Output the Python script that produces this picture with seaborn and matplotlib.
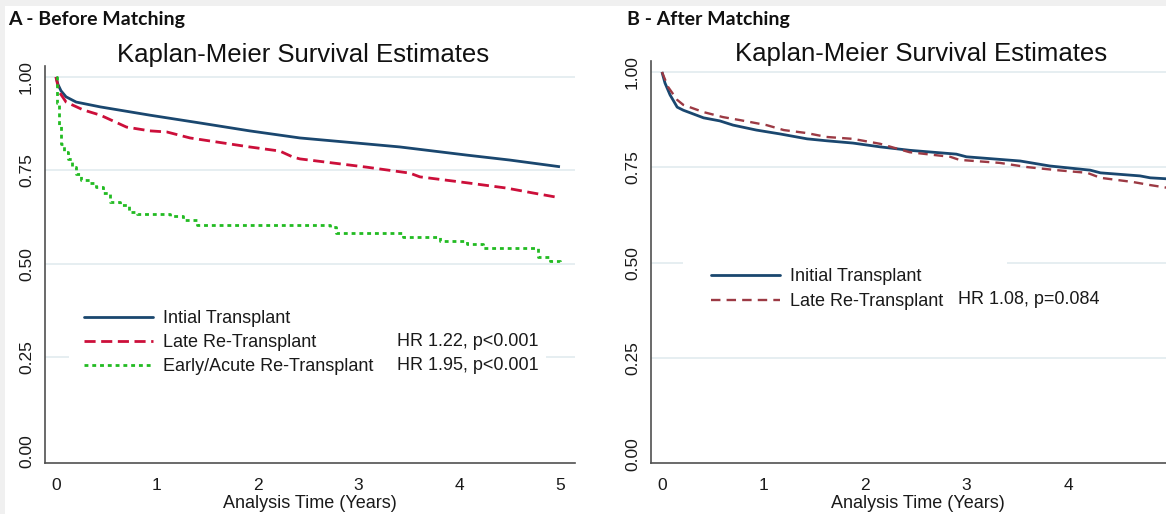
import matplotlib
matplotlib.use("Agg")
import matplotlib.pyplot as plt
import seaborn as sns
import pandas as pd
from matplotlib.lines import Line2D
from matplotlib.patches import Rectangle

# ---------------- data ----------------
y_ticks = [0.0, 0.25, 0.5, 0.75, 1.0]
y_tick_labels = ["0.00", "0.25", "0.50", "0.75", "1.00"]
x_ticks_a = [0, 1, 2, 3, 4, 5]
x_ticks_b = [0, 1, 2, 3, 4]

# Panel A - Before Matching
a_init_t = [0, 0.02, 0.05, 0.1, 0.2, 0.44, 0.93, 1.43, 1.92, 2.42, 3.0, 3.41, 4.08, 4.5, 5.0]
a_init_s = [1.0, 0.98, 0.963, 0.947, 0.933, 0.92, 0.898, 0.877, 0.856, 0.837, 0.823, 0.813, 0.791, 0.778, 0.760]

a_late_t = [0, 0.02, 0.04, 0.1, 0.27, 0.44, 0.70, 0.93, 1.1, 1.33, 1.6, 1.92, 2.22, 2.35, 2.42,
            2.75, 3.08, 3.51, 3.61, 4.08, 4.47, 4.73, 5.0]
a_late_s = [1.0, 0.975, 0.957, 0.933, 0.912, 0.898, 0.866, 0.856, 0.853, 0.837, 0.826, 0.813, 0.802, 0.786, 0.781,
            0.770, 0.759, 0.743, 0.733, 0.717, 0.703, 0.690, 0.677]

a_early_t = [0, 0.01, 0.03, 0.05, 0.08, 0.12, 0.16, 0.20, 0.25, 0.34, 0.40, 0.47, 0.54, 0.64, 0.72, 0.80,
             1.13, 1.26, 1.40, 2.72, 2.78, 3.44, 3.81, 4.08, 4.24, 4.78, 4.90, 5.0]
a_early_s = [1.0, 0.93, 0.87, 0.82, 0.80, 0.78, 0.76, 0.74, 0.725, 0.717, 0.705, 0.69, 0.666, 0.658, 0.64, 0.634,
             0.628, 0.618, 0.604, 0.599, 0.583, 0.572, 0.561, 0.553, 0.543, 0.519, 0.507, 0.50]

# Panel B - After Matching
b_init_t = [0, 0.03, 0.08, 0.15, 0.21, 0.41, 0.57, 0.70, 0.93, 1.16, 1.43, 1.62, 1.88, 2.15, 2.44,
            2.9, 3.0, 3.53, 3.82, 4.22, 4.32, 4.71, 4.81, 5.0]
b_init_s = [1.0, 0.971, 0.94, 0.908, 0.90, 0.88, 0.872, 0.861, 0.848, 0.838, 0.825, 0.82, 0.814, 0.804, 0.795,
            0.785, 0.778, 0.767, 0.754, 0.743, 0.736, 0.728, 0.723, 0.72]

b_late_t = [0, 0.06, 0.15, 0.21, 0.41, 0.6, 0.77, 1.03, 1.2, 1.43, 1.62, 1.88, 2.15, 2.44,
            2.84, 2.93, 3.33, 3.6, 3.89, 4.19, 4.32, 4.64, 4.81, 5.0]
b_late_s = [1.0, 0.961, 0.927, 0.914, 0.895, 0.882, 0.874, 0.861, 0.848, 0.84, 0.83, 0.825, 0.812, 0.79,
            0.778, 0.77, 0.762, 0.751, 0.743, 0.736, 0.723, 0.712, 0.704, 0.696]

labels_a = ["Intial Transplant", "Late Re-Transplant", "Early/Acute Re-Transplant"]
hr_a = ["HR 1.22, p<0.001", "HR 1.95, p<0.001"]
labels_b = ["Initial Transplant", "Late Re-Transplant"]
hr_b = ["HR 1.08, p=0.084"]

title_text = "Kaplan-Meier Survival Estimates"
xlabel_text = "Analysis Time (Years)"
panel_a = "A - Before Matching"
panel_b = "B - After Matching"

# ---------------- style ----------------
sns.set_theme(style="white")
plt.rcParams["font.family"] = ["Liberation Sans", "DejaVu Sans"]

NAVY = "#1a476f"
CRAN = "#cc0f3a"
GREEN = "#22bb22"
MAROON = "#9c3a44"
AXC = "#505050"
GRIDC = "#e4edf0"

W, H = 1166, 514
fig = plt.figure(figsize=(W / 100, H / 100), dpi=100)
fig.patch.set_facecolor("white")
# light grey framing strips of the screenshot
fig.add_artist(Rectangle((0, 1 - 6 / H), 1, 6 / H, transform=fig.transFigure,
                         facecolor="#f0f0f0", edgecolor="none", zorder=0))
fig.add_artist(Rectangle((0, 0), 5 / W, 1, transform=fig.transFigure,
                         facecolor="#f0f0f0", edgecolor="none", zorder=0))


def fx(px):
    return px / W


def fy(py):
    return 1 - py / H


axA = fig.add_axes([fx(45), fy(463), (575 - 45) / W, (463 - 66) / H])
axB = fig.add_axes([fx(651), fy(463), (1185 - 651) / W, (463 - 61) / H])


def km_line(ax, t, s, color, lw, dashes=None, steps=False):
    df = pd.DataFrame({"t": t, "s": s})
    kw = {}
    if steps:
        kw["drawstyle"] = "steps-post"
    sns.lineplot(data=df, x="t", y="s", ax=ax, color=color, linewidth=lw,
                 errorbar=None, estimator=None, zorder=3, **kw)
    line = ax.lines[-1]
    if dashes is not None:
        line.set_dashes(dashes)
    line.set_solid_capstyle("butt")
    return line


def style_axes(ax, xticks, xlim, ylim):
    ax.set_facecolor("none")
    ax.set_xlim(*xlim)
    ax.set_ylim(*ylim)
    ax.set_xticks(xticks)
    ax.set_xticklabels([str(v) for v in xticks])
    ax.set_yticks(y_ticks)
    ax.set_yticklabels(y_tick_labels, rotation=90, va="center")
    for s in ["top", "right"]:
        ax.spines[s].set_visible(False)
    for s in ["left", "bottom"]:
        ax.spines[s].set_color(AXC)
        ax.spines[s].set_linewidth(1.2)
    ax.tick_params(axis="both", direction="out", length=5, width=1.1, color=AXC,
                   labelsize=12.5, labelcolor="#1a1a1a")
    ax.tick_params(axis="x", pad=6)
    ax.tick_params(axis="y", pad=3)
    ax.grid(axis="y", color=GRIDC, linewidth=1.3)
    ax.grid(axis="x", visible=False)
    ax.set_axisbelow(True)
    ax.get_ygridlines()[0].set_visible(False)
    ax.set_xlabel(xlabel_text, fontsize=13, color="#1a1a1a", labelpad=1)
    ax.set_ylabel("")


# ---------------- panel A ----------------
km_line(axA, a_init_t, a_init_s, NAVY, 2.0)
km_line(axA, a_late_t, a_late_s, CRAN, 2.0, dashes=(4, 2))
km_line(axA, a_early_t, a_early_s, GREEN, 2.0, dashes=(1.4, 1.4), steps=True)
style_axes(axA, x_ticks_a, (-0.109, 5.149), (-0.0321, 1.0294))

axA.add_patch(Rectangle(((69 - 45) / 530, (463 - 385) / 397), (546 - 69) / 530, 82 / 397,
                        transform=axA.transAxes, facecolor="white", edgecolor="none", zorder=1.5))
hA = [Line2D([], [], color=NAVY, lw=2.0),
      Line2D([], [], color=CRAN, lw=2.0, dashes=(4, 2)),
      Line2D([], [], color=GREEN, lw=2.0, dashes=(1.4, 1.4))]
legA = axA.legend(hA, labels_a, loc="upper left", bbox_to_anchor=(fx(84), fy(310)),
                  bbox_transform=fig.transFigure, frameon=False, borderpad=0, borderaxespad=0,
                  handlelength=3.8, handletextpad=0.6, labelspacing=0.4, fontsize=13)
for txt in legA.get_texts():
    txt.set_color("#1a1a1a")
for i, txt in enumerate(hr_a):
    fig.text(fx(397), fy(341 + 25 * i), txt, fontsize=13, va="center", ha="left", color="#1a1a1a")

# ---------------- panel B ----------------
km_line(axB, b_init_t, b_init_s, NAVY, 2.0)
km_line(axB, b_late_t, b_late_s, MAROON, 1.7, dashes=(4, 2.6))
style_axes(axB, x_ticks_b, (-0.108, 5.153), (-0.0236, 1.0288))

axB.add_patch(Rectangle(((683 - 651) / 534, (463 - 318) / 402), (1007 - 683) / 534, 62 / 402,
                        transform=axB.transAxes, facecolor="white", edgecolor="none", zorder=1.5))
hB = [Line2D([], [], color=NAVY, lw=2.0),
      Line2D([], [], color=MAROON, lw=1.7, dashes=(4, 2.6))]
legB = axB.legend(hB, labels_b, loc="upper left", bbox_to_anchor=(fx(711), fy(268)),
                  bbox_transform=fig.transFigure, frameon=False, borderpad=0, borderaxespad=0,
                  handlelength=3.8, handletextpad=0.6, labelspacing=0.45, fontsize=13)
for txt in legB.get_texts():
    txt.set_color("#1a1a1a")
fig.text(fx(958), fy(299), hr_b[0], fontsize=13, va="center", ha="left", color="#1a1a1a")

# ---------------- titles ----------------
fig.text(fx(303), fy(62), title_text, fontsize=18.5, ha="center", va="baseline", color="#111111")
fig.text(fx(921), fy(61), title_text, fontsize=18.5, ha="center", va="baseline", color="#111111")
fig.text(fx(8), fy(25), panel_a, fontsize=14, fontweight="bold", family=["Lato", "DejaVu Sans"],
         ha="left", va="baseline", color="#111111")
fig.text(fx(627), fy(25), panel_b, fontsize=14, fontweight="bold", family=["Lato", "DejaVu Sans"],
         ha="left", va="baseline", color="#111111")

fig.savefig("out.png", dpi=100)
